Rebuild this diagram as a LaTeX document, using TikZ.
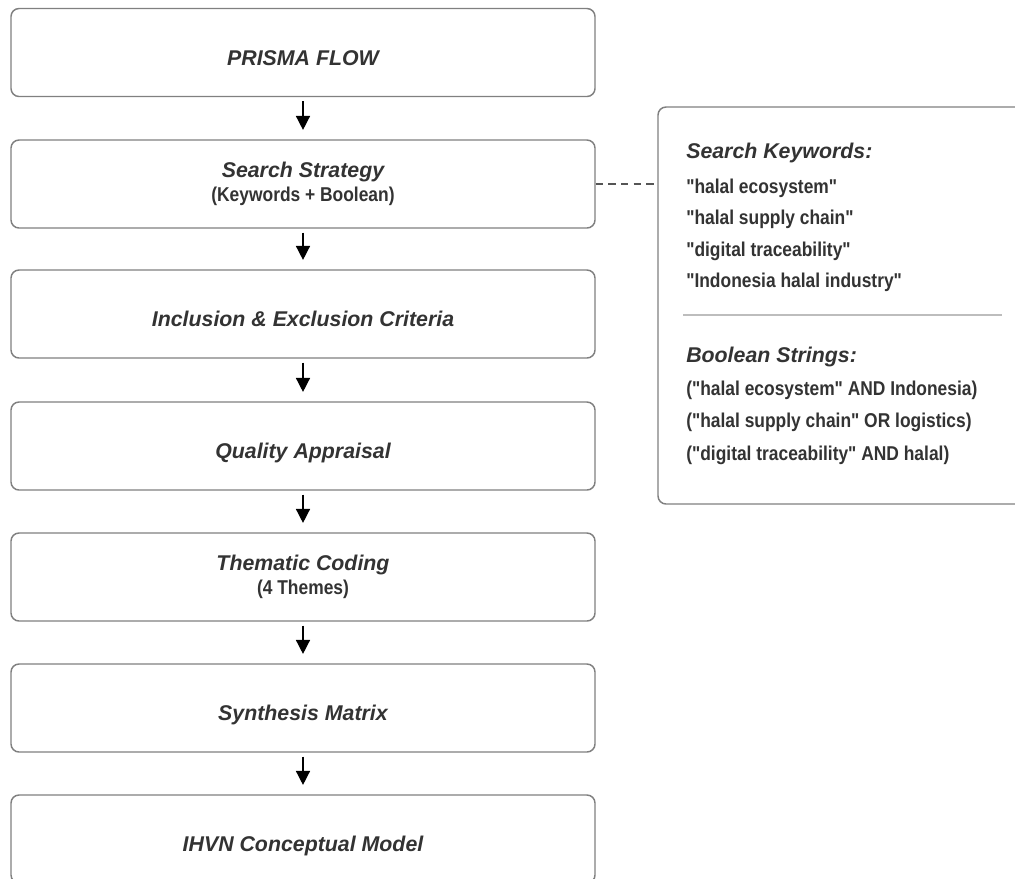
\documentclass[tikz,border=0pt]{standalone}
\usepackage{fontspec}
\setmainfont{Liberation Sans}
\newfontface\narrowbold{Liberation Sans Bold}[FakeStretch=0.87]
\usetikzlibrary{arrows.meta}
\definecolor{txt}{HTML}{333333}
\definecolor{bord}{HTML}{808080}
\definecolor{sepc}{HTML}{BDBDBD}
\definecolor{dashc}{HTML}{555555}
\newcommand{\subl}[1]{{\normalfont\fontsize{15}{16}\narrowbold #1}}
\tikzset{
  stepbox/.style={draw=bord, line width=1.1pt, rounded corners=6pt,
    minimum width=438pt, minimum height=66pt, inner sep=0pt, align=center,
    text=txt, font=\fontsize{16}{17.5}\selectfont\bfseries\itshape},
  onebox/.style={stepbox, text height=19pt, text depth=0pt},
  sidebox/.style={draw=bord, line width=1.1pt, rounded corners=6pt,
    minimum width=279pt, minimum height=297.75pt, inner sep=0pt},
  flow/.style={-{Triangle[length=10.5pt,width=10.5pt]}, line width=1.1pt, black,
    shorten <=3pt, shorten >=7pt},
  kwhead/.style={anchor=base west, inner sep=0pt, text=txt,
    font=\fontsize{16}{17}\selectfont\bfseries\itshape},
  kwitem/.style={anchor=base west, inner sep=0pt, text=txt,
    font=\normalfont\fontsize{15}{16}\narrowbold},
  link/.style={dashc, line width=1.1pt, dash pattern=on 5.5pt off 4pt}
}
\begin{document}
\begin{tikzpicture}[x=0.75pt,y=-0.75pt]
\useasboundingbox[fill=white] (0,0) rectangle (1015,879);

\node[onebox] (s1) at (303,52.5) {PRISMA FLOW};
\node[stepbox] (s2) at (303,184) {Search Strategy\\\subl{(Keywords + Boolean)}};
\node[onebox] (s3) at (303,314) {Inclusion \& Exclusion Criteria};
\node[onebox] (s4) at (303,446) {Quality Appraisal};
\node[stepbox] (s5) at (303,577) {Thematic Coding\\\subl{(4 Themes)}};
\node[onebox] (s6) at (303,708) {Synthesis Matrix};
\node[onebox] (s7) at (303,839) {IHVN Conceptual Model};

\draw[flow] (s1) -- (s2);
\draw[flow] (s2) -- (s3);
\draw[flow] (s3) -- (s4);
\draw[flow] (s4) -- (s5);
\draw[flow] (s5) -- (s6);
\draw[flow] (s6) -- (s7);

\node[sidebox] (kw) at (844,305.5) {};
\draw[link] (s2.east) -- (s2.east -| kw.west);

\node[kwhead] (kh) at (686,158) {Search Keywords:};
\node[kwitem] (k1) at (686,193) {"halal ecosystem"};
\node[kwitem] (k2) at (686,224.5) {"halal supply chain"};
\node[kwitem] (k3) at (686,256) {"digital traceability"};
\node[kwitem] (k4) at (686,287.5) {"Indonesia halal industry"};
\draw[sepc, line width=1.5pt] (683,315) -- (1002,315);
\node[kwhead] (bh) at (686,362) {Boolean Strings:};
\node[kwitem] (b1) at (686,395) {("halal ecosystem" AND Indonesia)};
\node[kwitem] (b2) at (686,427.5) {("halal supply chain" OR logistics)};
\node[kwitem] (b3) at (686,460) {("digital traceability" AND halal)};
\end{tikzpicture}
\end{document}
